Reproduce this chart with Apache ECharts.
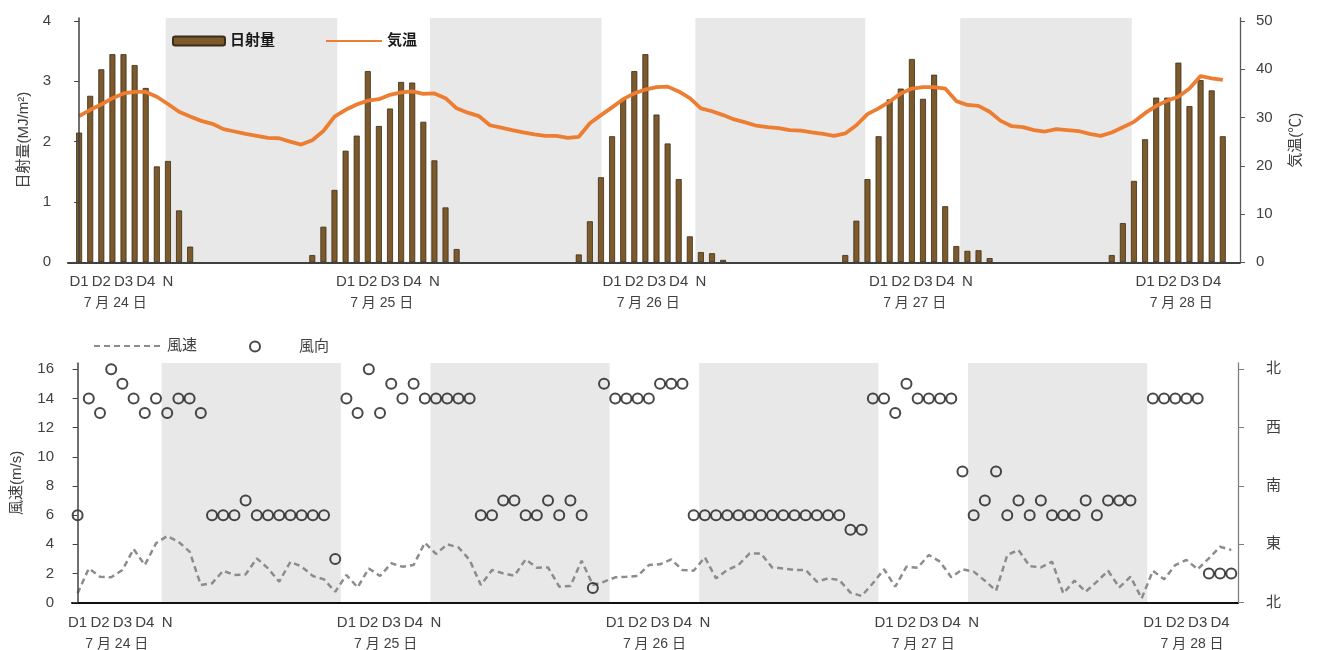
<!DOCTYPE html>
<html><head><meta charset="utf-8">
<script src="https://cdn.jsdelivr.net/npm/echarts@6/dist/echarts.min.js"></script>
<style>html,body{margin:0;padding:0;background:#fff}#c{width:1319px;height:650px}</style>
</head><body><div id="c"></div>
<script>
// hourly index: 0 = 7/24 08:00 ... 103 = 7/28 15:00
const dayLabels = ['7 月 24 日', '7 月 25 日', '7 月 26 日', '7 月 27 日', '7 月 28 日'];
const hourTags = ['D1', 'D2', 'D3', 'D4', 'N'];
const hourTagOffsets = [0, 2, 4, 6, 8];
const dirLabels = ['北', '東', '南', '西', '北'];
const dirValues = [0, 4, 8, 12, 16];
const radTicks = [0, 1, 2, 3, 4];
const tempTicks = [0, 10, 20, 30, 40, 50];
const windTicks = [0, 2, 4, 6, 8, 10, 12, 14, 16];
const nightTop = [[7.8, 23.25], [31.6, 47.05], [55.5, 70.8], [79.35, 94.8]];
const nightBottom = [[7.5, 23.5], [31.5, 47.5], [55.5, 71.5], [79.5, 95.5]];

const radiation = [
  2.15, 2.76, 3.20, 3.45, 3.45, 3.27, 2.89, 1.59, 1.68, 0.86, 0.26,
  0, 0, 0, 0, 0, 0, 0, 0, 0, 0,
  0.12, 0.59, 1.20, 1.85, 2.10, 3.17, 2.26, 2.55, 2.99, 2.98, 2.33, 1.69, 0.91, 0.22,
  0, 0, 0, 0, 0, 0, 0, 0, 0, 0,
  0.13, 0.68, 1.41, 2.09, 2.71, 3.17, 3.45, 2.45, 1.97, 1.38, 0.43, 0.17, 0.15, 0.04,
  0, 0, 0, 0, 0, 0, 0, 0, 0, 0,
  0.12, 0.69, 1.38, 2.09, 2.70, 2.88, 3.37, 2.71, 3.11, 0.93, 0.27, 0.19, 0.20, 0.07,
  0, 0, 0, 0, 0, 0, 0, 0, 0, 0,
  0.12, 0.65, 1.35, 2.04, 2.73, 2.73, 3.31, 2.59, 3.02, 2.85, 2.09
];
const temperature = [
  30.3, 31.6, 32.7, 34.0, 35.0, 35.3, 35.3, 34.3, 32.8, 31.2, 30.2,
  29.3, 28.7, 27.6, 27.1, 26.6, 26.2, 25.8, 25.7, 25.0, 24.4,
  25.3, 27.2, 30.2, 31.6, 32.7, 33.5, 33.8, 34.7, 35.2, 35.4, 34.9, 35.0,
  34.0, 31.9, 31.0, 30.3, 28.4, 27.9, 27.4, 26.9, 26.5, 26.2, 26.2, 25.8,
  26.0, 28.8, 30.5, 32.1, 33.8, 35.0, 35.8, 36.3, 36.4, 35.4, 34.0, 31.9,
  31.3, 30.5, 29.6, 29.0, 28.3, 28.0, 27.8, 27.4, 27.3, 26.9, 26.6, 26.2,
  26.7, 28.4, 30.7, 31.9, 33.3, 35.0, 36.0, 36.3, 36.3, 36.0, 33.4, 32.6,
  32.4, 31.2, 29.3, 28.2, 28.0, 27.4, 27.1, 27.6, 27.4, 27.2, 26.6, 26.2,
  26.9, 28.0, 29.1, 30.9, 32.4, 33.5, 34.3, 36.0, 38.6, 38.1, 37.8
];
const windSpeed = [
  0.64, 2.35, 1.78, 1.74, 2.24, 3.68, 2.58, 4.07, 4.57, 4.18, 3.50,
  1.21, 1.33, 2.19, 1.90, 1.94, 3.04, 2.35, 1.44, 2.81, 2.47, 1.83, 1.60,
  0.75, 1.90, 1.05, 2.35, 1.83, 2.70, 2.47, 2.58, 4.11, 3.34, 4.00, 3.79,
  2.93, 1.21, 2.24, 2.01, 1.85, 2.97, 2.40, 2.42, 1.10, 1.14, 2.88, 1.21,
  1.44, 1.74, 1.78, 1.83, 2.58, 2.63, 2.97, 2.24, 2.19, 3.11, 1.67, 2.24,
  2.58, 3.38, 3.38, 2.42, 2.35, 2.24, 2.24, 1.44, 1.67, 1.55, 0.69, 0.46,
  1.33, 2.29, 1.10, 2.47, 2.40, 3.27, 2.81, 1.74, 2.29, 2.13, 1.51, 0.82,
  3.27, 3.61, 2.51, 2.42, 2.81, 0.64, 1.51, 0.75, 1.44, 2.19, 1.05, 1.78,
  0.30, 2.19, 1.60, 2.58, 2.93, 2.29, 3.04, 3.84, 3.61
];
const windDir = [
  6, 14, 13, 16, 15, 14, 13, 14, 13, 14, 14, 13,
  6, 6, 6, 7, 6, 6, 6, 6, 6, 6, 6, 3,
  14, 13, 16, 13, 15, 14, 15, 14, 14, 14, 14, 14,
  6, 6, 7, 7, 6, 6, 7, 6, 7, 6, 1, 15,
  14, 14, 14, 14, 15, 15, 15, 6, 6, 6, 6, 6,
  6, 6, 6, 6, 6, 6, 6, 6, 6, 5, 5, 14,
  14, 13, 15, 14, 14, 14, 14, 9, 6, 7, 9, 6,
  7, 6, 7, 6, 6, 6, 7, 6, 7, 7, 7, null,
  14, 14, 14, 14, 14, 2, 2, 2
];

const FONT = "'Liberation Sans','Noto Sans CJK JP',sans-serif";
const lastIdx = radiation.length - 1;

function buildXLabels(dateOffset) {
  const map = new Map();
  dayLabels.forEach((d, k) => {
    hourTagOffsets.forEach((o, j) => {
      const p = k * 24 + o;
      if (p <= lastIdx) map.set(p, '{t|' + hourTags[j] + '}');
    });
    map.set(k * 24 + dateOffset, '{s| }\n{d|' + d + '}');
  });
  return map;
}
const topLabels = buildXLabels(3.25);
const botLabels = buildXLabels(3.5);

const rich = {
  t: { fontSize: 15, color: '#404040', fontFamily: FONT, lineHeight: 20 },
  s: { fontSize: 15, lineHeight: 20 },
  d: { fontSize: 14, color: '#404040', fontFamily: FONT, lineHeight: 22 }
};
function xAxisCfg(gridIndex, min, max, labels) {
  return {
    type: 'value', gridIndex, min, max, z: 5,
    splitLine: { show: false },
    axisTick: { show: false },
    axisLine: { lineStyle: { color: gridIndex === 0 ? '#404040' : '#111', width: 2 } },
    axisLabel: {
      customValues: Array.from(labels.keys()).sort((a, b) => a - b),
      formatter: v => labels.get(v) || '',
      showMinLabel: true, showMaxLabel: true, hideOverlap: false,
      margin: 10, rich, verticalAlign: 'top', lineHeight: 20
    }
  };
}
function yAxisCfg(opt) {
  return Object.assign({
    type: 'value', min: 0, z: 5, splitLine: { show: false },
    nameLocation: 'middle', nameRotate: 90,
    nameTextStyle: { fontSize: 15, color: '#404040', fontFamily: FONT },
    axisLine: { show: true, lineStyle: { color: '#404040', width: 1.5 } },
  }, opt);
}

const idx = radiation.map((_, i) => i);
const toBand = b => [{ xAxis: b[0] }, { xAxis: b[1] }];
const legendText = { fontSize: 15, fontWeight: 'bold', color: '#1a1a1a', fontFamily: FONT };
const legendText2 = { fontSize: 15, color: '#404040', fontFamily: FONT };

const option = {
  animation: false,
  textStyle: { fontFamily: FONT },
  grid: [
    { left: 68, right: 79, top: 18, bottom: 387.7, outerBoundsMode: 'none', containLabel: false },
    { left: 72, right: 81, top: 363, bottom: 47.3, outerBoundsMode: 'none', containLabel: false }
  ],
  legend: [
    { left: 172, top: 33.5, padding: 0, itemWidth: 52, itemHeight: 9, data: ['日射量'], textStyle: legendText },
    { left: 325, top: 33.5, padding: 0, itemWidth: 56, itemHeight: 9,
      data: [{ name: '気温', itemStyle: { opacity: 0 } }], textStyle: legendText },
    { left: 93, top: 338.5, padding: 0, itemWidth: 68, itemHeight: 11,
      data: [{ name: '風速', itemStyle: { opacity: 0 } }], textStyle: legendText2 },
    { left: 249, top: 339, padding: 0, itemWidth: 10, itemHeight: 10,
      data: [{ name: '風向', icon: 'circle' }],
      textStyle: Object.assign({ padding: [0, 0, 0, 34] }, legendText2) }
  ],
  xAxis: [
    xAxisCfg(0, -1, 104.55, topLabels),
    xAxisCfg(1, -0.5, 103.6, botLabels)
  ],
  yAxis: [
    yAxisCfg({ gridIndex: 0, max: 4.05, name: '日射量(MJ/m²)', nameGap: 36,
      axisLabel: { customValues: radTicks, fontSize: 15, color: '#404040', margin: 17 },
      axisTick: { show: true, length: 5, customValues: radTicks, lineStyle: { color: '#404040' } } }),
    yAxisCfg({ gridIndex: 0, max: 50.62, position: 'right', name: '気温(℃)', nameGap: 48,
      axisLine: { show: true, lineStyle: { color: '#595959', width: 1.3 } },
      axisLabel: { customValues: tempTicks, fontSize: 15, color: '#404040', margin: 16 },
      axisTick: { show: true, length: 5, customValues: tempTicks, lineStyle: { color: '#595959' } } }),
    yAxisCfg({ gridIndex: 1, max: 16.43, name: '風速(m/s)', nameGap: 48,
      axisLabel: { customValues: windTicks, fontSize: 15, color: '#404040', margin: 18 },
      axisTick: { show: true, length: 5, customValues: windTicks, lineStyle: { color: '#404040' } } }),
    yAxisCfg({ gridIndex: 1, max: 16.43, position: 'right',
      axisLine: { show: true, lineStyle: { color: '#808080', width: 1.3 } },
      axisLabel: { customValues: dirValues, fontSize: 15, color: '#404040', margin: 28,
        formatter: v => dirLabels[dirValues.indexOf(v)] },
      axisTick: { show: true, length: 6, customValues: dirValues, lineStyle: { color: '#808080' } } })
  ],
  series: [
    { type: 'line', xAxisIndex: 0, yAxisIndex: 0, data: [], silent: true, z: 0,
      markArea: { silent: true, itemStyle: { color: '#e8e8e8' }, data: nightTop.map(toBand) } },
    { type: 'line', xAxisIndex: 1, yAxisIndex: 2, data: [], silent: true, z: 0,
      markArea: { silent: true, itemStyle: { color: '#e8e8e8' }, data: nightBottom.map(toBand) } },
    { name: '日射量', type: 'bar', xAxisIndex: 0, yAxisIndex: 0, barWidth: 6, z: 2,
      itemStyle: { color: '#7d5a2c', borderColor: '#3b2d17', borderWidth: 0.8 },
      data: idx.filter(i => radiation[i] > 0).map(i => [i, radiation[i]]) },
    { name: '気温', type: 'line', xAxisIndex: 0, yAxisIndex: 1, symbol: 'none', z: 3,
      lineStyle: { color: '#ED7D31', width: 3.8 }, itemStyle: { color: '#ED7D31' },
      data: idx.map(i => [i, temperature[i]]) },
    { name: '風速', type: 'line', xAxisIndex: 1, yAxisIndex: 2, symbol: 'none', z: 3,
      lineStyle: { color: '#8c8c8c', width: 2.5, type: [6, 4] }, itemStyle: { color: '#8c8c8c' },
      data: idx.map(i => [i, windSpeed[i]]) },
    { name: '風向', type: 'scatter', xAxisIndex: 1, yAxisIndex: 2, symbol: 'circle', symbolSize: 10, z: 4,
      itemStyle: { color: 'rgba(0,0,0,0)', borderColor: '#1a1a1a', borderWidth: 2 },
      data: idx.filter(i => windDir[i] !== null).map(i => [i, windDir[i]]) }
  ]
};
const chart = echarts.init(document.getElementById('c'), null, { renderer: 'canvas' });
chart.setOption(option);
</script>
</body></html>
